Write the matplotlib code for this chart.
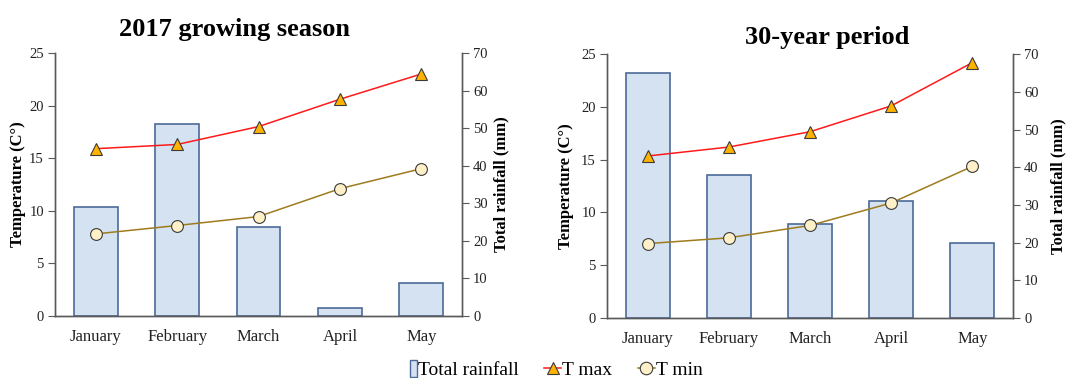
import matplotlib
matplotlib.use("Agg")
import matplotlib.pyplot as plt
from matplotlib.lines import Line2D
from matplotlib.patches import Patch, Rectangle
from matplotlib.legend_handler import HandlerPatch

months = ["January", "February", "March", "April", "May"]

rain_2017 = [29.0, 51.2, 23.7, 2.0, 8.7]
tmax_2017 = [15.9, 16.3, 18.0, 20.6, 23.0]
tmin_2017 = [7.8, 8.6, 9.45, 12.1, 14.0]

rain_30y = [65.0, 37.9, 25.0, 31.0, 19.9]
tmax_30y = [15.35, 16.2, 17.65, 20.1, 24.2]
tmin_30y = [7.05, 7.6, 8.77, 10.9, 14.37]

titles = ["2017 growing season", "30-year period"]

plt.rcParams['font.family'] = ['Liberation Serif', 'DejaVu Serif']

BAR_FC = "#D5E2F2"
BAR_EC = "#4C6A97"
TMAX_C = "#FF1A1A"
TMAX_FC = "#FFB300"
TMIN_C = "#9E7B1C"
TMIN_FC = "#FFF0C8"
SPINE = "#5A5A5A"

fig = plt.figure(figsize=(10.70, 3.78), dpi=100)

positions = [[0.0514, 0.164, 0.3804, 0.696], [0.5673, 0.1587, 0.3794, 0.698]]
title_xy = [(0.219, 0.922), (0.773, 0.902)]
ylab_left_x = [-0.071, -0.081]
ylab_right_x = [1.076, 1.092]
datasets = [(rain_2017, tmax_2017, tmin_2017), (rain_30y, tmax_30y, tmin_30y)]

for i, (pos, (rain, tmax, tmin)) in enumerate(zip(positions, datasets)):
    ax = fig.add_axes(pos)
    ax2 = ax.twinx()
    ax.set_zorder(ax2.get_zorder() + 1)
    ax.patch.set_visible(False)
    x = list(range(len(months)))
    ax2.bar(x, rain, width=0.54, color=BAR_FC, edgecolor=BAR_EC, linewidth=1.2)
    ax.plot(x, tmax, color=TMAX_C, lw=1.1, marker='^', markersize=8.5,
            markerfacecolor=TMAX_FC, markeredgecolor="#3a3a3a", markeredgewidth=0.8)
    ax.plot(x, tmin, color=TMIN_C, lw=1.1, marker='o', markersize=8.5,
            markerfacecolor=TMIN_FC, markeredgecolor="#3a3a3a", markeredgewidth=0.8)
    ax.set_xlim(-0.5, 4.5)
    ax.set_ylim(0, 25)
    ax.set_yticks([0, 5, 10, 15, 20, 25])
    ax2.set_ylim(0, 70)
    ax2.set_yticks([0, 10, 20, 30, 40, 50, 60, 70])
    ax.set_xticks(x)
    ax.set_xticklabels(months, fontsize=12)
    ax.tick_params(axis='x', length=0, pad=9, colors='#222222')
    ax.tick_params(axis='y', length=5, width=0.8, color=SPINE, labelsize=10.5,
                   labelcolor='#222222', pad=3)
    ax2.tick_params(axis='y', length=5, width=0.8, color=SPINE, labelsize=10.5,
                    labelcolor='#222222', pad=3)
    for a in (ax, ax2):
        a.spines['top'].set_visible(False)
        for s in ('left', 'right', 'bottom'):
            a.spines[s].set_color(SPINE)
            a.spines[s].set_linewidth(1.0)
    ax.set_ylabel("Temperature (C°)", fontsize=12, fontweight='bold')
    ax.yaxis.set_label_coords(ylab_left_x[i], 0.5)
    ax2.set_ylabel("Total rainfall (mm)", fontsize=12, fontweight='bold')
    ax2.yaxis.set_label_coords(ylab_right_x[i], 0.5)
    fig.text(title_xy[i][0], title_xy[i][1], titles[i], fontsize=19,
             fontweight='bold', ha='center', va='center')


def narrow_rect(legend, orig_handle, xdescent, ydescent, width, height, fontsize):
    w = width * 0.38
    return Rectangle((-xdescent + width - w, -ydescent - height * 0.15), w, height * 1.25)


handles = [
    Patch(facecolor=BAR_FC, edgecolor=BAR_EC, linewidth=1.0),
    Line2D([], [], color=TMAX_C, lw=1.1, marker='^', markersize=9,
           markerfacecolor=TMAX_FC, markeredgecolor="#3a3a3a", markeredgewidth=0.8),
    Line2D([], [], color=TMIN_C, lw=1.1, marker='o', markersize=9,
           markerfacecolor=TMIN_FC, markeredgecolor="#3a3a3a", markeredgewidth=0.8),
]
fig.legend(handles, ["Total rainfall", "T max", "T min"], loc='center',
           bbox_to_anchor=(0.515, 0.02), ncol=3, frameon=False, fontsize=14,
           handlelength=0.9, handletextpad=0.05, columnspacing=1.3, borderpad=0,
           handler_map={Patch: HandlerPatch(patch_func=narrow_rect)})

fig.savefig("out.png", dpi=100)
